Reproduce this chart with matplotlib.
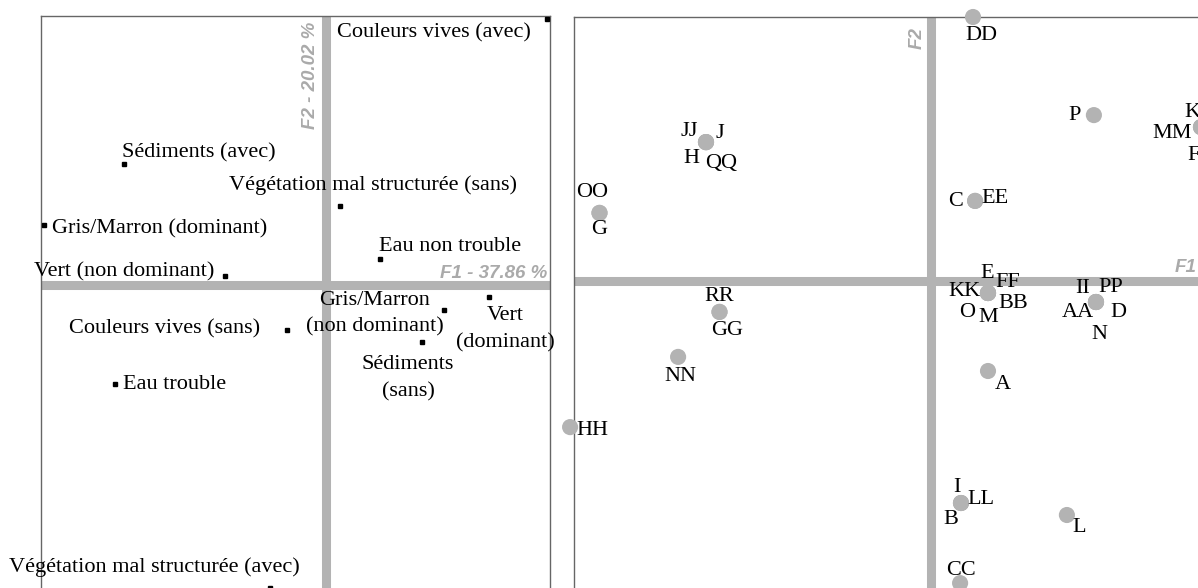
import matplotlib
matplotlib.use("Agg")
import matplotlib.pyplot as plt

# ---------------- Data ----------------
# Left panel: modalities (F1, F2 coordinates)
modalites = [
    "Couleurs vives (avec)", "Sédiments (avec)", "Végétation mal structurée (sans)",
    "Gris/Marron (dominant)", "Eau non trouble", "Vert (non dominant)",
    "Gris/Marron\n(non dominant)", "Vert\n(dominant)", "Couleurs vives (sans)",
    "Sédiments\n(sans)", "Eau trouble", "Végétation mal structurée (avec)",
]
mod_f1 = [0.737, -0.673, 0.047, -0.940, 0.180, -0.337, 0.393, 0.543, -0.130, 0.320, -0.703, -0.187]
mod_f2 = [0.887, 0.403, 0.263, 0.200, 0.087, 0.030, -0.083, -0.040, -0.150, -0.190, -0.330, -1.010]

# Right panel: sites (F1, F2 coordinates)
sites = ["DD", "P", "K", "MM", "F", "JJ", "J", "H", "QQ", "OO", "G", "C", "EE",
         "E", "FF", "KK", "BB", "O", "M", "II", "PP", "AA", "D", "N", "RR", "GG",
         "NN", "HH", "A", "I", "LL", "B", "L", "CC"]
site_f1 = [0.140, 0.543, 0.900, 0.900, 0.900, -0.750, -0.750, -0.750, -0.750, -1.105, -1.105,
           0.147, 0.147, 0.190, 0.190, 0.190, 0.190, 0.190, 0.190, 0.550, 0.550, 0.550, 0.550,
           0.550, -0.705, -0.705, -0.843, -1.203, 0.190, 0.100, 0.100, 0.100, 0.453, 0.097]
site_f2 = [0.880, 0.553, 0.513, 0.513, 0.513, 0.463, 0.463, 0.463, 0.463, 0.227, 0.227,
           0.267, 0.267, -0.040, -0.040, -0.040, -0.040, -0.040, -0.040, -0.070, -0.070, -0.070,
           -0.070, -0.070, -0.103, -0.103, -0.253, -0.487, -0.300, -0.740, -0.740, -0.740,
           -0.780, -1.007]

axis_f1_left = "F1 - 37.86 %"
axis_f2_left = "F2 - 20.02 %"
axis_f1_right = "F1"
axis_f2_right = "F2"

# ---------------- Label layout (pixel offsets, alignment) ----------------
mod_label_layout = [
    (-16, -14, "right"), (-2, 11, "left"), (33, 21, "center"), (8, -4, "left"),
    (-1, 12, "left"), (-11, 4, "right"), (-69, -4, "center"), (16, -32, "center"),
    (-27, 1, "right"), (-14, -36, "center"), (8, 0, "left"), (-116, 21, "center"),
]
site_label_offsets = [
    (8, -18), (-19, 0), (-9, 15), (-29, -6), (-7, -28), (-17, 11), (14, 9), (-15, -16),
    (15, -21), (-7, 20), (0, -17), (-20, -1), (20, 2), (-1, 20), (20, 11), (-23, 2),
    (25, -10), (-21, -19), (0, -24), (-13, 14), (15, 15), (-18, -10), (22, -10), (3, -32),
    (0, 15), (8, -19), (2, -20), (22, -3), (15, -13), (-4, 16), (20, 4), (-10, -16),
    (12, -12), (1, 13),
]

# ---------------- Styles ----------------
W, H = 1198, 588
BAR = "#b3b3b3"
FRAME = "#666666"
AXLAB = "#aaaaaa"
SERIF = "Liberation Serif"
SANS = "Liberation Sans"
LFS = 16

fig = plt.figure(figsize=(W / 100, H / 100), dpi=100)


def px_axes(x0, x1, y0, y1):
    return fig.add_axes([x0 / W, (H - y1) / H, (x1 - x0) / W, (y1 - y0) / H])


def frame(ax):
    ax.set_xticks([])
    ax.set_yticks([])
    for s in ax.spines.values():
        s.set_color(FRAME)
        s.set_linewidth(1.0)
        s.set_zorder(3)
    ax.axhline(0, color=BAR, lw=6.5, zorder=1)
    ax.axvline(0, color=BAR, lw=6.5, zorder=1)


# Left panel
axL = px_axes(41, 550, 16, 600)
axL.set_xlim(-0.95, 0.7467)
axL.set_ylim(-1.05, 0.8967)
frame(axL)
axL.plot(mod_f1, mod_f2, "s", color="black", ms=3, zorder=4, clip_on=False, linestyle="none")
for name, x, y, (dx, dy, ha) in zip(modalites, mod_f1, mod_f2, mod_label_layout):
    axL.annotate(name, (x, y), xytext=(dx, dy), textcoords="offset pixels",
                 ha=ha, va="center", multialignment="center", fontsize=LFS,
                 family=SERIF, linespacing=1.55, zorder=5, annotation_clip=False)
axL.annotate(axis_f1_left, (0.7467, 0), xytext=(-3, 12), textcoords="offset pixels",
             ha="right", va="center", fontsize=13.5, family=SANS, fontweight="bold",
             fontstyle="italic", color=AXLAB, zorder=2)
axL.annotate(axis_f2_left, (0, 0.8967), xytext=(-15, -6), textcoords="offset pixels",
             ha="center", va="top", rotation=90, fontsize=13.5, family=SANS,
             fontweight="bold", fontstyle="italic", color=AXLAB, zorder=2)

# Right panel
axR = px_axes(574, 1200, 17, 600)
axR.set_xlim(-1.19, 0.8967)
axR.set_ylim(-1.0633, 0.88)
frame(axR)
axR.scatter(site_f1, site_f2, s=135, color=BAR, edgecolors="none", zorder=4, clip_on=False)
for name, x, y, (dx, dy) in zip(sites, site_f1, site_f2, site_label_offsets):
    axR.annotate(name, (x, y), xytext=(dx, dy), textcoords="offset pixels",
                 ha="center", va="center", fontsize=LFS, family=SERIF, zorder=5,
                 annotation_clip=False)
axR.annotate(axis_f1_right, (0.8967, 0), xytext=(-3, 14), textcoords="offset pixels",
             ha="right", va="center", fontsize=13.5, family=SANS, fontweight="bold",
             fontstyle="italic", color=AXLAB, zorder=2)
axR.annotate(axis_f2_right, (0, 0.88), xytext=(-14, -10), textcoords="offset pixels",
             ha="center", va="top", rotation=90, fontsize=13.5, family=SANS,
             fontweight="bold", fontstyle="italic", color=AXLAB, zorder=2)

fig.savefig("out.png", dpi=100)
